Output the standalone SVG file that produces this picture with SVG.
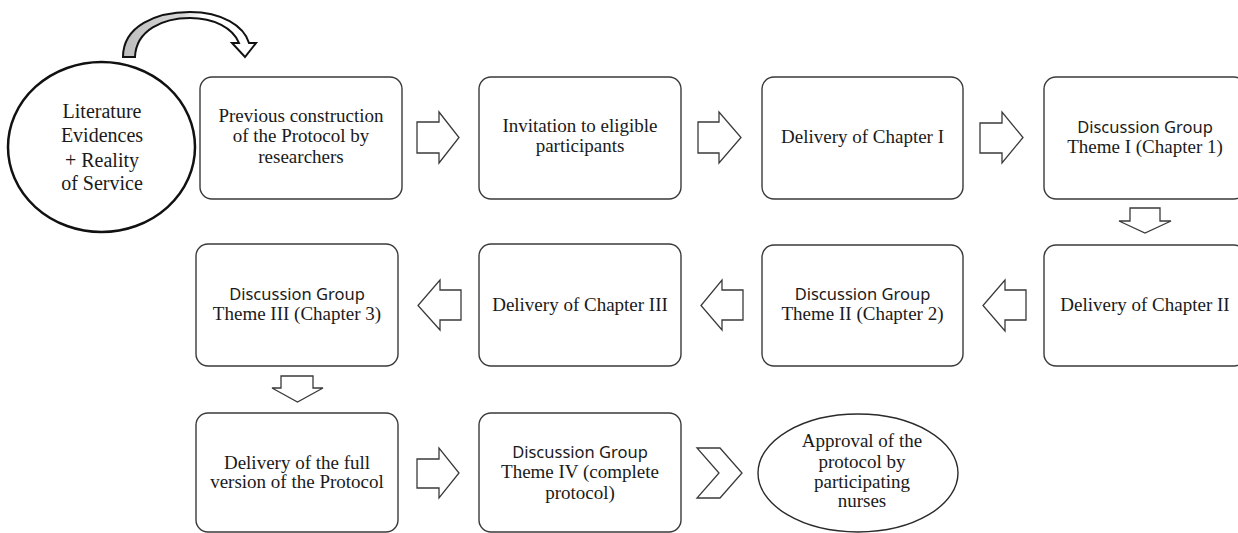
<svg xmlns="http://www.w3.org/2000/svg" width="1238" height="533" viewBox="0 0 1238 533">
<style>
.box{fill:#fff;stroke:#3a3a3a;stroke-width:1.4}
.arr{fill:#fff;stroke:#3a3a3a;stroke-width:1.3;stroke-linejoin:miter}
.t{font-family:"Liberation Serif","Times New Roman",serif;font-size:19px;fill:#1a1a1a;text-anchor:middle}
.s{font-family:"Noto Sans","Open Sans",sans-serif;font-size:16.5px;fill:#1a1a1a;text-anchor:middle}
.c{font-size:20px}
</style>
<defs>
<linearGradient id="g" x1="0" y1="0" x2="1" y2="0">
<stop offset="0" stop-color="#bdbdbd"/>
<stop offset="0.45" stop-color="#d8d8d8"/>
<stop offset="0.6" stop-color="#ffffff"/>
<stop offset="1" stop-color="#ffffff"/>
</linearGradient>
</defs>
<rect width="1238" height="533" fill="#fff"/>

<g id="connectors">
<path id="curve" d="M123,57 C123,26 156,12 190,12 C222,12 244,26 249,43 L256,43 L245,57 L232,43 L239,43 C233,28 214,18 190,18 C163,18 136,30 135,57 Z" fill="url(#g)" stroke="#111" stroke-width="2"/>
<path class="arr" d="M417,122 H439 V112 L459,137.5 L439,163 V153 H417 Z"/>
<path class="arr" d="M698,122 H719 V112 L741,137.5 L719,163 V153 H698 Z"/>
<path class="arr" d="M980,123 H1002 V112 L1023,137.5 L1002,163 V153 H980 Z"/>
<path class="arr" d="M1130,208 H1160 V221 H1171 L1145,233 L1119,221 H1130 Z"/>
<path class="arr" d="M1026,290 H1005 V280 L983,305.5 L1005,331 V320 H1026 Z"/>
<path class="arr" d="M743,290 H722 V280 L701,305.5 L722,330 V320 H743 Z"/>
<path class="arr" d="M461,290 H440 V280 L418,305.5 L440,330 V320 H461 Z"/>
<path class="arr" d="M281,376 H313 V388 H323 L297.5,402 L272,388 H281 Z"/>
<path class="arr" d="M417,459 H439 V448 L459,473 L439,498 V488 H417 Z"/>
<path class="arr" d="M697,448 H720 L742,473 L720,498 H697 L719,473 Z"/>
</g>

<g id="n0">
<ellipse cx="101.5" cy="147" rx="93.5" ry="85" fill="#fff" stroke="#111" stroke-width="2.5"/>
<text class="t c" x="102" y="118">Literature</text>
<text class="t c" x="102" y="142">Evidences</text>
<text class="t c" x="102" y="167">+ Reality</text>
<text class="t c" x="102" y="190">of Service</text>
</g>

<g id="n1">
<rect class="box" x="200" y="77" width="202" height="122" rx="12"/>
<text class="t" x="301" y="122">Previous construction</text>
<text class="t" x="301" y="142">of the Protocol by</text>
<text class="t" x="301" y="163">researchers</text>
</g>

<g id="n2">
<rect class="box" x="479" y="77" width="202" height="122" rx="12"/>
<text class="t" x="580" y="132">Invitation to eligible</text>
<text class="t" x="580" y="152">participants</text>
</g>

<g id="n3">
<rect class="box" x="762" y="77" width="201" height="122" rx="12"/>
<text class="t" x="862.5" y="143">Delivery of Chapter I</text>
</g>

<g id="n4">
<rect class="box" x="1044" y="77" width="202" height="122" rx="12"/>
<text class="s" x="1145" y="133">Discussion Group</text>
<text class="t" x="1145" y="153">Theme I (Chapter 1)</text>
</g>

<g id="n5">
<rect class="box" x="1044" y="245" width="202" height="121" rx="12"/>
<text class="t" x="1145" y="311">Delivery of Chapter II</text>
</g>

<g id="n6">
<rect class="box" x="762" y="245" width="201" height="121" rx="12"/>
<text class="s" x="862.5" y="300">Discussion Group</text>
<text class="t" x="862.5" y="320">Theme II (Chapter 2)</text>
</g>

<g id="n7">
<rect class="box" x="479" y="244" width="202" height="122" rx="12"/>
<text class="t" x="580" y="311">Delivery of Chapter III</text>
</g>

<g id="n8">
<rect class="box" x="196" y="244" width="202" height="122" rx="12"/>
<text class="s" x="297" y="300">Discussion Group</text>
<text class="t" x="297" y="320">Theme III (Chapter 3)</text>
</g>

<g id="n9">
<rect class="box" x="196" y="413" width="202" height="119" rx="12"/>
<text class="t" x="297" y="469">Delivery of the full</text>
<text class="t" x="297" y="488">version of the Protocol</text>
</g>

<g id="n10">
<rect class="box" x="479" y="413" width="202" height="119" rx="12"/>
<text class="s" x="580" y="458">Discussion Group</text>
<text class="t" x="580" y="478">Theme IV (complete</text>
<text class="t" x="580" y="499">protocol)</text>
</g>

<g id="n11">
<ellipse cx="858" cy="473" rx="100" ry="59" fill="#fff" stroke="#2a2a2a" stroke-width="1.4"/>
<text class="t" x="862" y="447">Approval of the</text>
<text class="t" x="862" y="468">protocol by</text>
<text class="t" x="862" y="488">participating</text>
<text class="t" x="862" y="507">nurses</text>
</g>
</svg>
